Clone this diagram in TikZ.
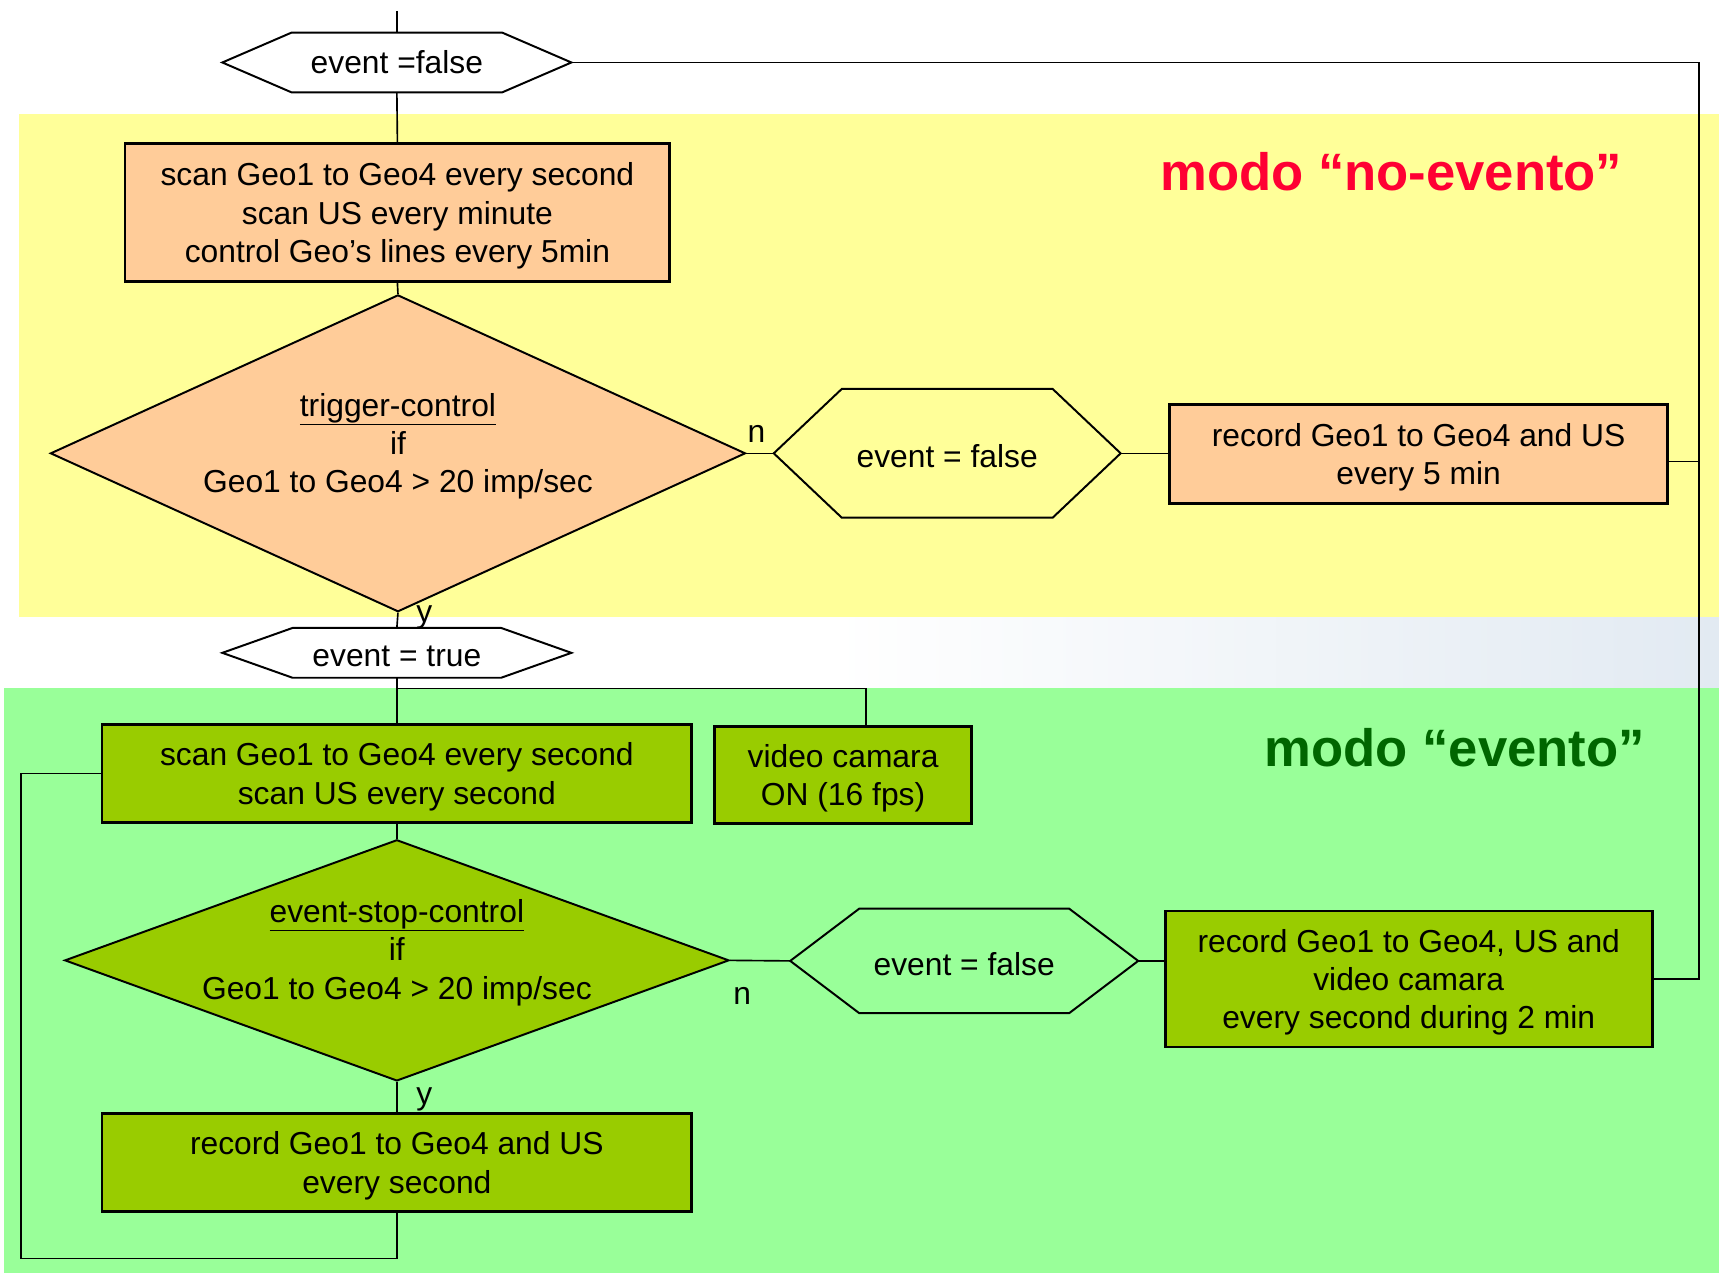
\documentclass[tikz,border=0pt]{standalone}
\usepackage{fontspec}
\setmainfont{Liberation Sans}
\usetikzlibrary{shapes.geometric,calc}
\definecolor{bandY}{HTML}{FFFF99}
\definecolor{bandG}{HTML}{99FF99}
\definecolor{boxO}{HTML}{FFCC99}
\definecolor{boxG}{HTML}{99CC00}
\definecolor{titR}{HTML}{FF0033}
\definecolor{titG}{HTML}{006600}
\definecolor{photo}{RGB}{226,234,242}
\newcommand\hexoutline[2]{\draw[hexline] (#1.west) -- ([xshift=#2pt]#1.north west) -- ([xshift=-#2pt]#1.north east) -- (#1.east) -- ([xshift=-#2pt]#1.south east) -- ([xshift=#2pt]#1.south west) -- cycle;}
\newcommand\topstrut{\rule{0pt}{27pt}}
\begin{document}
\begin{tikzpicture}[x=1pt,y=-1pt,
  txt/.style={font=\fontsize{29}{35}\selectfont, align=center, inner sep=0pt},
  box/.style={draw=black, line width=2.6pt, rectangle, inner sep=0pt, font=\fontsize{29}{35}\selectfont, align=center},
  dia/.style={draw=black, line width=1.8pt, diamond, inner sep=0pt},
  hexbox/.style={rectangle, inner sep=0pt, font=\fontsize{29}{35}\selectfont, align=center},
  lowered/.style={text height=26pt},
  hexline/.style={draw=black, line width=1.8pt, line join=miter},
  conn/.style={draw=black, line width=1.5pt},
  lbl/.style={font=\fontsize{29}{35}\selectfont, inner sep=0pt},
  title/.style={font=\fontsize{48}{56}\selectfont\bfseries, inner sep=0pt}
]
\useasboundingbox (0,0) rectangle (1568,1161);
% bands
\fill[bandY] (17,104) rectangle (1568,563);
\fill[left color=white, right color=photo] (760,563) rectangle (1568,628);
\fill[bandG] (4,628) rectangle (1568,1161);

% nodes
\coordinate (start) at (362,10);
\node[hexbox, minimum width=318pt, minimum height=54pt] (h0) at (362,57) {event =false};
\hexoutline{h0}{63}
\node[box, fill=boxO, minimum width=497pt, minimum height=126pt] (r1) at (362.5,194) {\topstrut scan Geo1 to Geo4 every second\\scan US every minute\\control Geo’s lines every 5min};
\node[dia, fill=boxO, minimum width=634pt, minimum height=289pt] (d1) at (363,413.5) {};
\node[txt] (d1t) at (363,404) {\topstrut\underline{trigger-control}\\if\\Geo1 to Geo4 > 20 imp/sec};
\node[hexbox, lowered, minimum width=316pt, minimum height=117pt] (hf1) at (864,413.5) {event = false};
\hexoutline{hf1}{62}
\node[box, fill=boxO, minimum width=454pt, minimum height=90pt] (ro) at (1294,414) {\topstrut record Geo1 to Geo4 and US\\every 5 min};
\node[hexbox, lowered, minimum width=318pt, minimum height=45pt] (ht) at (362,595.5) {event = true};
\hexoutline{ht}{64}
\node[box, fill=boxG, minimum width=538pt, minimum height=89pt] (r2) at (362,705.5) {\topstrut scan Geo1 to Geo4 every second\\scan US every second};
\node[box, fill=boxG, minimum width=234pt, minimum height=88pt] (vid) at (769,707) {\topstrut video camara\\ON (16 fps)};
\node[dia, fill=boxG, minimum width=606pt, minimum height=220pt] (d2) at (362,876) {};
\node[txt] (d2t) at (362,866) {\topstrut\underline{event-stop-control}\\if\\Geo1 to Geo4 > 20 imp/sec};
\node[hexbox, lowered, minimum width=317pt, minimum height=95pt] (hf2) at (879.5,876.5) {event = false};
\hexoutline{hf2}{63}
\node[box, fill=boxG, minimum width=444pt, minimum height=124pt] (rg) at (1285,893) {\topstrut record Geo1 to Geo4, US and\\video camara\\every second during 2 min};
\node[box, fill=boxG, minimum width=538pt, minimum height=89pt] (rb) at (362,1060.5) {\topstrut record Geo1 to Geo4 and US\\every second};

% labels
\node[lbl] (ly1) at (387,563) {y};
\node[lbl] (ln1) at (690,396) {n};
\node[lbl] (ly2) at (387,1003) {y};
\node[lbl] (ln2) at (677,908) {n};

% titles
\node[title, text=titR] (t1) at (1269,157) {modo “no-evento”};
\node[title, text=titG] (t2) at (1327,682) {modo “evento”};

% connectors
\coordinate (ne) at (1550,57);
\coordinate (jt) at (362,628);
\coordinate (ll) at (19,1148);
\coordinate (roe) at ([yshift=-7pt]ro.east);
\draw[conn] (start) -- (h0.north);
\draw[conn] (h0.south) -- (r1.north);
\draw[conn] (r1.south) -- (d1.north);
\draw[conn] (d1.east) -- (hf1.west);
\draw[conn] (hf1.east) -- (hf1.east -| ro.west);
\draw[conn] (roe) -- (roe -| ne);
\draw[conn] (h0.east) -- (ne) -- (ne |- rg.east) -- (rg.east);
\draw[conn] (d1.south) -- (ht.north);
\draw[conn] (ht.south) -- (r2.north);
\draw[conn] (jt) -| ([xshift=21pt]vid.north);
\draw[conn] (r2.south) -- (d2.north);
\draw[conn] (d2.east) -- (hf2.west);
\draw[conn] (hf2.east) -- (hf2.east -| rg.west);
\draw[conn] (d2.south) -- (rb.north);
\draw[conn] (rb.south) |- (ll) |- (r2.west);
\end{tikzpicture}
\end{document}
